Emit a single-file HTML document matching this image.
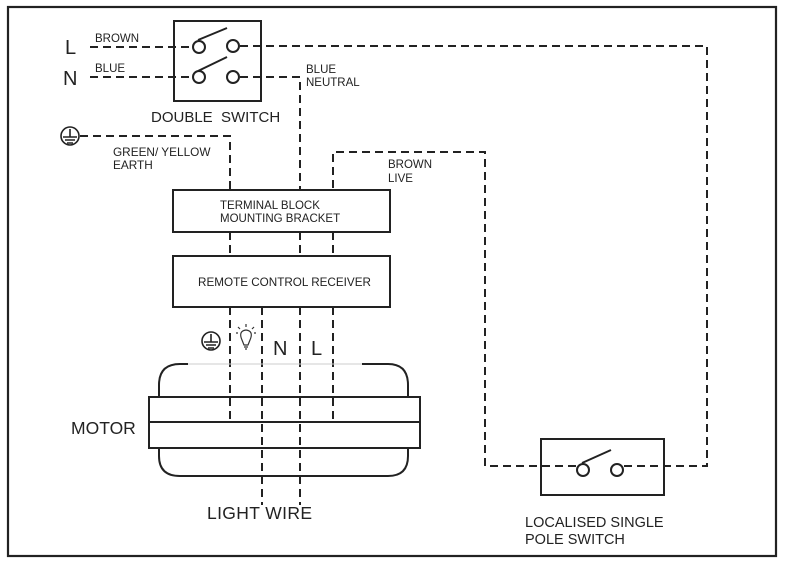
<!DOCTYPE html>
<html><head><meta charset="utf-8"><style>
html,body{margin:0;padding:0;background:#fff;}
svg{display:block;}
text{font-family:"Liberation Sans",sans-serif;fill:#222;}
</style></head><body>
<svg width="790" height="568" viewBox="0 0 790 568" xmlns="http://www.w3.org/2000/svg">
<rect x="8" y="7" width="768" height="549" fill="none" stroke="#222" stroke-width="2.2"/>
<g fill="none" stroke="#222" stroke-width="2" stroke-dasharray="8,5">
<path d="M90 47 H192"/>
<path d="M240 46 H707 V466 H624"/>
<path d="M90 77 H192"/>
<path d="M240 77 H300 V190"/>
<path d="M80 136 H230 V190"/>
<path d="M576 466 H485 V152 H333 V190"/>
<path d="M230 232 V256 M300 232 V256 M333 232 V256"/>
<path d="M230 307 V422 M262 307 V505 M300 307 V505 M333 307 V422"/>
</g>
<g fill="none" stroke="#222" stroke-width="2">
<rect x="174" y="21" width="87" height="80"/>
<circle cx="199" cy="47" r="6"/><circle cx="233" cy="46" r="6"/>
<circle cx="199" cy="77" r="6"/><circle cx="233" cy="77" r="6"/>
<path d="M198 40 L227 28 M198 71 L227 57"/>
<rect x="173" y="190" width="217" height="42"/>
<rect x="173" y="256" width="217" height="51"/>
<rect x="541" y="439" width="123" height="56"/>
<circle cx="583" cy="470" r="6"/><circle cx="617" cy="470" r="6"/>
<path d="M582 463 L611 450"/>
<rect x="149" y="397" width="271" height="25"/>
<rect x="149" y="422" width="271" height="26"/>
<path d="M188 364 H180 Q159 364 159 385 V397 M159 448 V456 Q159 476 180 476 H388 Q408 476 408 456 V448 M408 397 V385 Q408 364 388 364 H362"/>
<circle cx="70" cy="136" r="9" stroke-width="1.6"/>
<circle cx="211" cy="341" r="9" stroke-width="1.6"/>
</g>
<path d="M188 364 H362" stroke="#ccc" stroke-width="1"/>
<g stroke="#222" stroke-width="1.6">
<path d="M70 129 V137 M63 137 H77 M65 140 H75 M67 143 H73"/>
<path d="M211 334 V342 M204 342 H218 M206 345 H216 M208 348 H214"/>
</g>
<g fill="none" stroke="#333" stroke-width="1.2">
<path d="M242 340 Q238 331 246 330 Q254 331 250 340 L248 345 H244 Z"/>
<path d="M246 324 V327 M238 327 L240 329 M254 327 L252 329 M236 333 H238 M254 333 H256"/>
<path d="M244 347 H248 M245 349 H247"/>
</g>
<text x="65" y="54" font-size="20">L</text>
<text x="63" y="85" font-size="20">N</text>
<text x="95" y="42" font-size="11.5">BROWN</text>
<text x="95" y="72" font-size="11.5">BLUE</text>
<text x="151" y="122" font-size="15">DOUBLE&#160; SWITCH</text>
<text x="306" y="73" font-size="11.5">BLUE</text>
<text x="306" y="86" font-size="11.5">NEUTRAL</text>
<text x="113" y="156" font-size="11.8">GREEN/ YELLOW</text>
<text x="113" y="169" font-size="11.8">EARTH</text>
<text x="388" y="168" font-size="11.5">BROWN</text>
<text x="388" y="182" font-size="11.5">LIVE</text>
<text x="220" y="209" font-size="11.5">TERMINAL BLOCK</text>
<text x="220" y="222" font-size="11.5">MOUNTING BRACKET</text>
<text x="198" y="286" font-size="11.7">REMOTE CONTROL RECEIVER</text>
<text x="273" y="355" font-size="20">N</text>
<text x="311" y="355" font-size="20">L</text>
<text x="71" y="434" font-size="17.5">MOTOR</text>
<text x="207" y="519" font-size="17.5" textLength="105">LIGHT WIRE</text>
<text x="525" y="527" font-size="14.5">LOCALISED SINGLE</text>
<text x="525" y="544" font-size="14.5">POLE SWITCH</text>
</svg>
</body></html>
